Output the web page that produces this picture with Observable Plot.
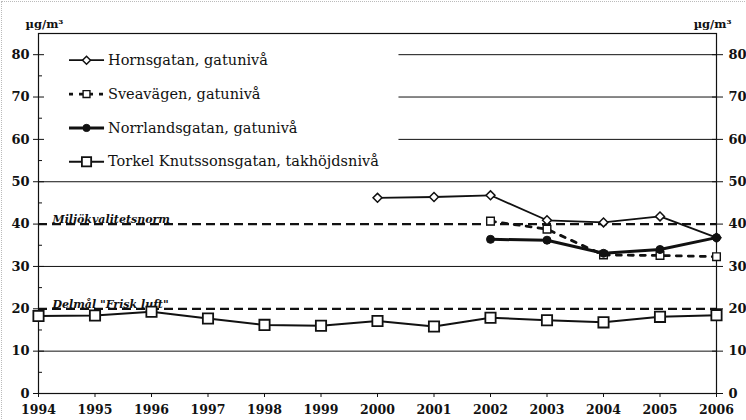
<!DOCTYPE html>
<html>
<head>
<meta charset="utf-8">
<script src="https://cdn.jsdelivr.net/npm/d3@7"></script>
<script src="https://cdn.jsdelivr.net/npm/@observablehq/plot@0.6"></script>
<style>
  html, body { margin: 0; padding: 0; background: #fff; }
  #chart { position: relative; width: 746px; height: 420px; }
  #chart svg { display: block; }
  #edge { position: absolute; left: 1px; top: 1px; right: 1px; bottom: 1px; border-top: 1px dotted #bbb; border-left: 1px dotted #bbb; pointer-events: none; }
</style>
</head>
<body>
<div id="chart"><div id="edge"></div></div>
<script>
// ---- data ----
const years = [1994, 1995, 1996, 1997, 1998, 1999, 2000, 2001, 2002, 2003, 2004, 2005, 2006];
const torkelValues = [18.3, 18.4, 19.3, 17.7, 16.2, 16.0, 17.1, 15.8, 17.9, 17.3, 16.8, 18.1, 18.5];
const hornYears = [2000, 2001, 2002, 2003, 2004, 2005, 2006];
const hornValues = [46.2, 46.4, 46.8, 40.9, 40.4, 41.8, 36.8];
const sveaYears = [2002, 2003, 2004, 2005, 2006];
const sveaValues = [40.7, 38.8, 32.7, 32.6, 32.3];
const norrYears = [2002, 2003, 2004, 2005, 2006];
const norrValues = [36.4, 36.2, 33.1, 34.0, 36.8];
const seriesNames = ["Hornsgatan, gatunivå", "Sveavägen, gatunivå", "Norrlandsgatan, gatunivå", "Torkel Knutssonsgatan, takhöjdsnivå"];
const refValues = [40, 20];
const refLabels = ["Miljökvalitetsnorm", "Delmål \"Frisk luft\""];
const yTicks = [0, 10, 20, 30, 40, 50, 60, 70, 80];
const yMinorTicks = [5, 15, 25, 35, 45, 55, 65, 75];
const fullGrid = [10, 30, 50];
const partialGrid = [60, 70, 80];
const unitLabel = "µg/m³";

// ---- build ----
const serif = "DejaVu Serif";
const ink = "#111";
const series = [
  {name: seriesNames[0], xs: hornYears, ys: hornValues, symbol: "diamond2", r: 4, fill: "white", sw: 1.8, dash: null, dotSw: 1.5},
  {name: seriesNames[1], xs: sveaYears, ys: sveaValues, symbol: "square", r: 4.3, fill: "white", sw: 2.8, dash: "5,7", dotSw: 1.4},
  {name: seriesNames[2], xs: norrYears, ys: norrValues, symbol: "circle", r: 4, fill: ink, sw: 3, dash: null, dotSw: 1},
  {name: seriesNames[3], xs: years, ys: torkelValues, symbol: "square", r: 5.8, fill: "white", sw: 2, dash: null, dotSw: 1.8}
];

const marks = [];
marks.push(Plot.ruleY(fullGrid, {y: d => d, stroke: ink, strokeWidth: 1}));
marks.push(Plot.ruleY(partialGrid, {y: d => d, x1: 2000.38, x2: 2006, stroke: ink, strokeWidth: 1}));
const refs = refValues.map((v, i) => ({v, label: refLabels[i]}));
marks.push(Plot.ruleY(refs, {y: "v", stroke: ink, strokeWidth: 2.2, strokeDasharray: "9,5"}));
marks.push(Plot.text(refs, {x: 1994, y: "v", text: "label", textAnchor: "start", lineAnchor: "bottom", dx: 14, dy: -1,
  fontFamily: serif, fontStyle: "italic", fontWeight: "bold", fontSize: 11, fill: ink}));
marks.push(Plot.frame({stroke: ink, strokeWidth: 1.2}));
marks.push(Plot.axisX({ticks: years, tickFormat: d => String(d), tickSize: 4, tickPadding: 8, fontSize: 12.5, fontFamily: serif, fontWeight: "bold", label: null}));
marks.push(Plot.axisY({anchor: "left", ticks: yTicks, tickSize: 5, tickPadding: 4, fontSize: 13, fontFamily: serif, fontWeight: "bold", label: null}));
marks.push(Plot.axisY({anchor: "left", ticks: yTicks, tickSize: 6, dx: 6, tickFormat: () => "", label: null}));
marks.push(Plot.axisY({anchor: "left", ticks: yMinorTicks, tickSize: 4, dx: 4, tickFormat: () => "", label: null}));
marks.push(Plot.axisY({anchor: "right", ticks: yTicks, tickSize: 6, tickPadding: 6, fontSize: 13, fontFamily: serif, fontWeight: "bold", label: null}));
marks.push(Plot.axisY({anchor: "right", ticks: yTicks, tickSize: 5, dx: -5, tickFormat: () => "", label: null}));
marks.push(Plot.text([unitLabel], {frameAnchor: "top-left", text: d => d, textAnchor: "start", dx: -13, dy: -14, fontSize: 11.5, fontFamily: serif, fontWeight: "bold", fill: ink}));
marks.push(Plot.text([unitLabel], {frameAnchor: "top-right", text: d => d, textAnchor: "end", dx: 15, dy: -14, fontSize: 11.5, fontFamily: serif, fontWeight: "bold", fill: ink}));

series.forEach((s, i) => {
  const rows = s.xs.map((x, j) => ({x, y: s.ys[j]}));
  marks.push(Plot.line(rows, {x: "x", y: "y", stroke: ink, strokeWidth: s.sw, strokeDasharray: s.dash}));
  marks.push(Plot.dot(rows, {x: "x", y: "y", symbol: s.symbol, r: s.r, fill: s.fill, stroke: ink, strokeWidth: s.dotSw}));
  const ly = 78.7 - 8 * i;
  const lrow = [{y: ly, label: s.name}];
  marks.push(Plot.link(lrow, {x1: 1994.54, x2: 1995.16, y1: "y", y2: "y", stroke: ink, strokeWidth: s.sw, strokeDasharray: s.dash ? "4,6" : null}));
  marks.push(Plot.dot(lrow, {x: 1994.85, y: "y", symbol: s.symbol, r: s.r * 0.9, fill: s.fill, stroke: ink, strokeWidth: s.dotSw}));
  marks.push(Plot.text(lrow, {x: 1995.23, y: "y", text: "label", textAnchor: "start", fontSize: 14.5, fontFamily: serif, fontWeight: "normal", fill: ink}));
});

const chart = Plot.plot({
  width: 746,
  height: 420,
  marginLeft: 38,
  marginRight: 30,
  marginTop: 33,
  marginBottom: 27,
  style: {fontWeight: "bold", color: ink, background: "transparent"},
  x: {type: "linear", domain: [1994, 2006]},
  y: {domain: [0, 85]},
  marks
});
document.getElementById("chart").appendChild(chart);
</script>
</body>
</html>
